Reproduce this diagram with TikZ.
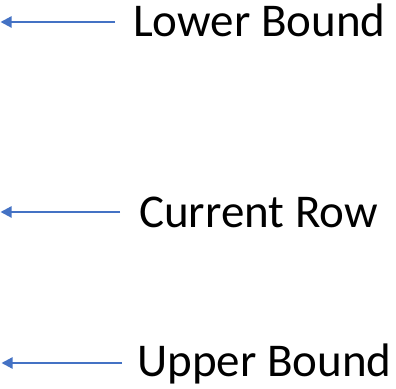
\documentclass[tikz,border=0pt]{standalone}
\usepackage{fontspec}
\setmainfont{Carlito}
\usetikzlibrary{arrows.meta}
\definecolor{arrblue}{HTML}{4472C4}
\tikzset{
  lbl/.style={anchor=base west, inner sep=0pt, font=\fontsize{47}{56}\selectfont},
  ptr/.style={draw=arrblue, line width=2.2pt, -{Triangle[length=11pt,width=11pt]}}
}
\begin{document}
\begin{tikzpicture}[x=1pt,y=1pt]
\useasboundingbox (0,0) rectangle (396,388);
\node[lbl] (lower) at (133,351) {Lower Bound};
\node[lbl] (current) at (139,160) {Current Row};
\node[lbl] (upper) at (137,12) {Upper Bound};
\coordinate (lowerT) at (115,366);
\coordinate (lowerH) at (0.5,366);
\coordinate (currentT) at (120,176);
\coordinate (currentH) at (0.5,176);
\coordinate (upperT) at (122,25);
\coordinate (upperH) at (1.5,25);
\draw[ptr] (lowerT) -- (lowerH);
\draw[ptr] (currentT) -- (currentH);
\draw[ptr] (upperT) -- (upperH);
\end{tikzpicture}
\end{document}
